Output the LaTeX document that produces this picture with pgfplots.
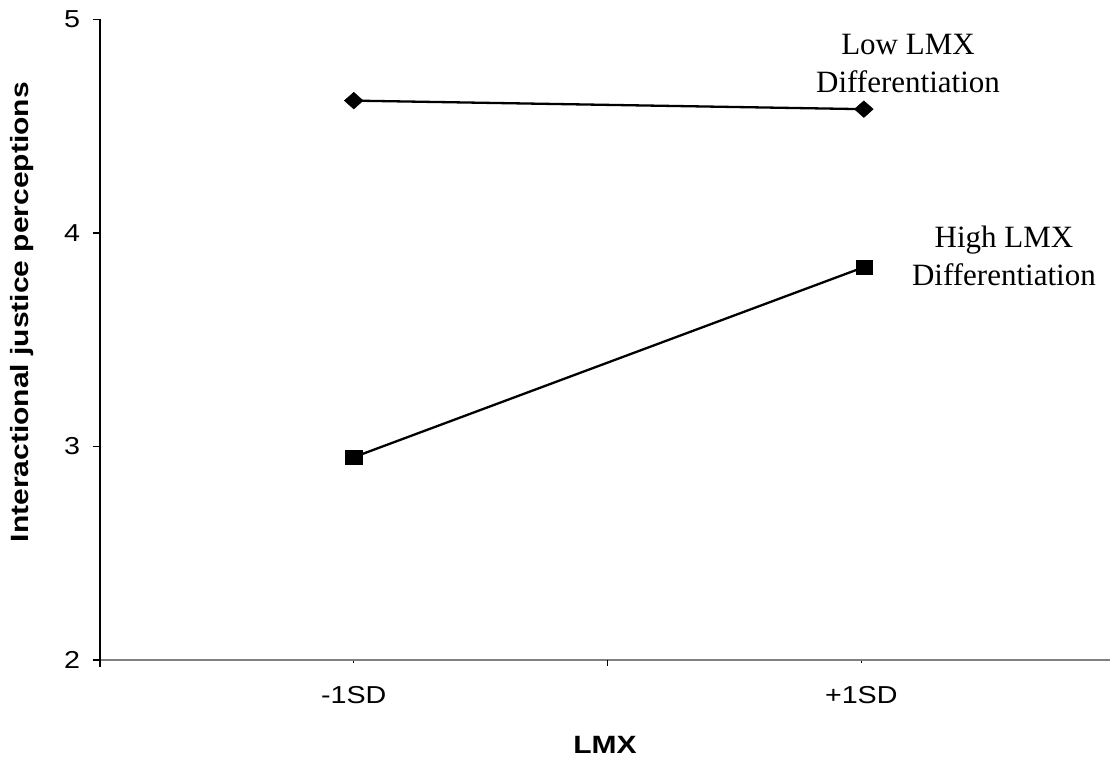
\documentclass[border=0pt]{standalone}
\usepackage{fontspec}
\setmainfont{Liberation Sans}
\newfontfamily\tickfont{Liberation Sans}[FakeStretch=1.17, NFSSFamily=lsstretchtick]
\newfontfamily\labfont{Liberation Sans Bold}[FakeStretch=1.2, NFSSFamily=lsstretchlab]
\newfontfamily\annfont{Liberation Serif}
\usepackage{pgfplots}
\pgfplotsset{compat=1.18}
\begin{document}
\begin{tikzpicture}
\begin{axis}[
  name=ax,
  width=1010pt, height=640.5pt, scale only axis,
  xmin=0, xmax=1.99, ymin=2, ymax=5,
  axis x line*=bottom, axis y line*=left,
  x axis line style={draw=gray, line width=1.3pt},
  y axis line style={draw=black, line width=1.3pt},
  xtick={0.5,1,1.5}, xticklabels={-1SD,,+1SD},
  ytick={2,3,4,5},
  tick align=outside,
  major tick length=7.5pt,
  xtick style={draw=black, line width=1pt, /pgfplots/major tick length=3pt},
  ytick style={draw=black, line width=1.2pt},
  /pgf/number format/assume math mode=true,
  tick label style={font=\tickfont\fontsize{24.5}{29}\selectfont},
  xticklabel style={anchor=base, yshift=-36pt},
  yticklabel style={xshift=-9pt},
  ylabel={Interactional justice perceptions},
  xlabel={LMX},
  label style={font=\labfont\fontsize{25}{30}\selectfont},
  ylabel style={at={(rel axis cs:-0.0772,0.543)}, anchor=center},
  xlabel style={at={(rel axis cs:0.5,0)}, anchor=base, yshift=-93pt},
  clip=false,
]
\addplot[black, line width=2.3pt, mark=diamond*, mark size=8.3pt,
  mark options={xscale=1.5, line width=0.5pt, solid}]
  coordinates {(0.5,4.62) (1.505,4.58)};
\addplot[black, line width=2.3pt, mark=square*, mark size=8.1pt,
  mark options={yscale=0.87, line width=0.5pt, solid}]
  coordinates {(0.5,2.95) (1.505,3.84)};
\node[font=\annfont\fontsize{31}{37}\selectfont, anchor=base] at (axis cs:1.592,4.834) {Low LMX};
\node[font=\annfont\fontsize{31}{37}\selectfont, anchor=base] at (axis cs:1.592,4.660) {Differentiation};
\node[font=\annfont\fontsize{31}{37}\selectfont, anchor=base] at (axis cs:1.781,3.930) {High LMX};
\node[font=\annfont\fontsize{31}{37}\selectfont, anchor=base] at (axis cs:1.781,3.756) {Differentiation};
\end{axis}
\draw[black, line width=1.3pt] (ax.south west) -- ++(0,-7pt);
\draw[black, line width=1pt] ([xshift=507.5pt]ax.south west) -- ++(0,-6pt);
\pgfresetboundingbox
\path ([xshift=-100pt,yshift=-102pt]ax.south west) rectangle ([yshift=19.5pt]ax.north east);
\end{tikzpicture}
\end{document}
